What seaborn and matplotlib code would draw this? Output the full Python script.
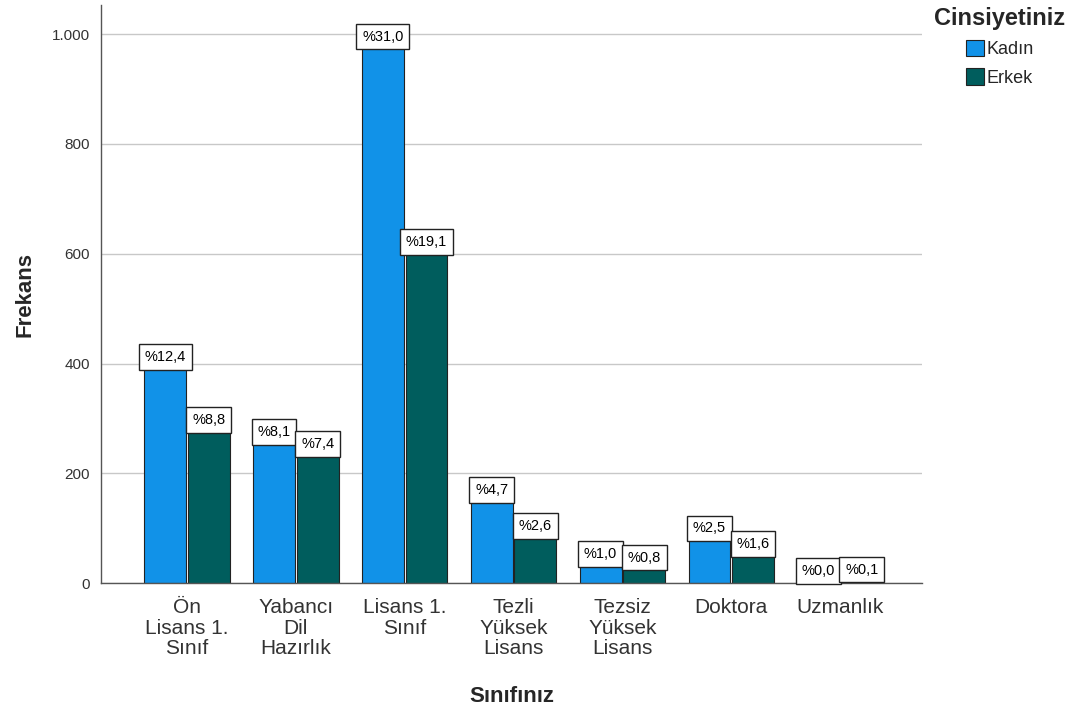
import pandas as pd
import numpy as np
import matplotlib
matplotlib.use('Agg')
import matplotlib.pyplot as plt
import seaborn as sns
from matplotlib.ticker import FuncFormatter

sns.set_style('white')
plt.rcParams['font.family'] = ['Liberation Sans', 'DejaVu Sans']

categories = ['Ön\nLisans 1.\nSınıf', 'Yabancı\nDil\nHazırlık', 'Lisans 1.\nSınıf',
              'Tezli\nYüksek\nLisans', 'Tezsiz\nYüksek\nLisans', 'Doktora', 'Uzmanlık']
kadin = [390, 254, 974, 148, 31, 78, 1]
erkek = [276, 232, 600, 82, 25, 50, 3]
kadin_pct = ['%12,4', '%8,1', '%31,0', '%4,7', '%1,0', '%2,5', '%0,0']
erkek_pct = ['%8,8', '%7,4', '%19,1', '%2,6', '%0,8', '%1,6', '%0,1']
genders = ['Kadın', 'Erkek']
colors = ['#1192e8', '#005d5d']

df = pd.DataFrame({
    'Sınıfınız': categories * 2,
    'Cinsiyetiniz': [genders[0]] * len(categories) + [genders[1]] * len(categories),
    'Frekans': kadin + erkek,
})

fig = plt.figure(figsize=(10.7, 7.19), dpi=100)
ax = fig.add_axes([0.0944, 0.189, 0.767, 0.804])

sns.barplot(data=df, x='Sınıfınız', y='Frekans', hue='Cinsiyetiniz',
            palette=colors, saturation=1, width=0.8, gap=0.04,
            edgecolor='#222222', linewidth=0.8, ax=ax, errorbar=None)

# percentage labels sitting on the bar tops
for cont, labels in zip(ax.containers, [kadin_pct, erkek_pct]):
    for bar, lab in zip(cont, labels):
        x = bar.get_x() + bar.get_width() / 2
        y = bar.get_height()
        ax.annotate(lab, (x, y), xytext=(0, 3.5), textcoords='offset points',
                    ha='center', va='bottom', fontsize=10.5, color='black',
                    bbox=dict(boxstyle='square,pad=0.4', fc='white', ec='#222222', lw=1))

ax.set_ylim(0, 1053)
ax.set_xlim(-0.79, 6.75)
ax.set_yticks([0, 200, 400, 600, 800, 1000])
ax.yaxis.set_major_formatter(FuncFormatter(lambda v, p: f'{int(v):,}'.replace(',', '.')))
ax.yaxis.grid(True, color='#c8c8c8', lw=1)
ax.set_axisbelow(True)
ax.tick_params(axis='y', labelsize=11, colors='#333333', length=0, pad=8)
ax.tick_params(axis='x', labelsize=15, colors='#333333', length=0, pad=11)
for t in ax.get_xticklabels():
    t.set_linespacing(1.1)
for s in ['top', 'right']:
    ax.spines[s].set_visible(False)
for s in ['left', 'bottom']:
    ax.spines[s].set_color('#555555')
    ax.spines[s].set_linewidth(1)

ax.set_xlabel('Sınıfınız', fontsize=16, fontweight='bold', labelpad=20)
ax.set_ylabel('Frekans', fontsize=16, fontweight='bold', labelpad=12)

leg = ax.legend(title='Cinsiyetiniz', loc='upper left', bbox_to_anchor=(1.0, 1.018),
                frameon=False, fontsize=13, title_fontsize=17,
                handlelength=1.0, handleheight=1.0, handletextpad=0.15,
                labelspacing=0.55, borderaxespad=0.3)
leg.get_title().set_fontweight('bold')

fig.savefig('out.png', dpi=100)
